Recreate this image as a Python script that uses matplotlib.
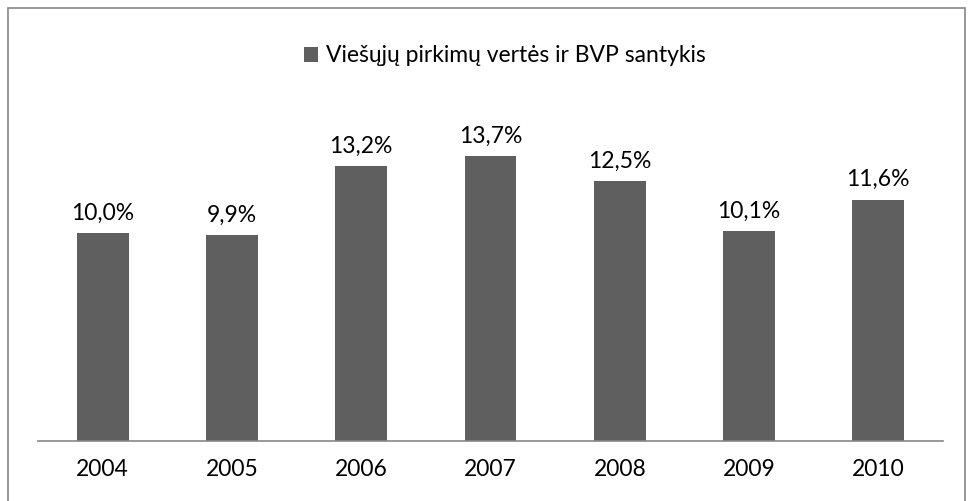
import matplotlib.pyplot as plt
from matplotlib.patches import Rectangle

plt.rcParams['font.family'] = ['Lato', 'DejaVu Sans']

years = ['2004', '2005', '2006', '2007', '2008', '2009', '2010']
values = [10.0, 9.9, 13.2, 13.7, 12.5, 10.1, 11.6]
labels = ['10,0%', '9,9%', '13,2%', '13,7%', '12,5%', '10,1%', '11,6%']
series_name = 'Viešųjų pirkimų vertės ir BVP santykis'

fs = 16.5

fig = plt.figure(figsize=(9.72, 5.01), dpi=100)
ax = fig.add_axes([38 / 972, 60 / 501, 905 / 972, 333 / 501])

bar_color = '#5f5f5f'
x = range(len(years))
bars = ax.bar(x, values, width=0.40, color=bar_color, label=series_name)

for b, lab in zip(bars, labels):
    ax.text(b.get_x() + b.get_width() / 2, b.get_height() + 0.45, lab,
            ha='center', va='bottom', fontsize=fs, color='black')

ax.set_xlim(-0.5, len(years) - 0.5)
ax.set_ylim(0, 16)
ax.set_xticks(list(x))
ax.set_xticklabels(years, fontsize=fs)
ax.tick_params(axis='x', length=0, pad=13)
ax.set_yticks([])
for s in ['top', 'right', 'left']:
    ax.spines[s].set_visible(False)
ax.spines['bottom'].set_color('#868686')
ax.spines['bottom'].set_linewidth(1.2)

leg = fig.legend(loc='center', bbox_to_anchor=(505 / 972, 1 - 56 / 501),
                 frameon=False, fontsize=fs, handlelength=0.6,
                 handleheight=0.6, handletextpad=0.35)

# outer chart border
fig.patches.append(Rectangle((8 / 972, -0.05), 957 / 972, 1 - 8 / 501 + 0.05,
                             transform=fig.transFigure, fill=False,
                             edgecolor='#868686', linewidth=1.2))

fig.savefig('out.png', dpi=100)
